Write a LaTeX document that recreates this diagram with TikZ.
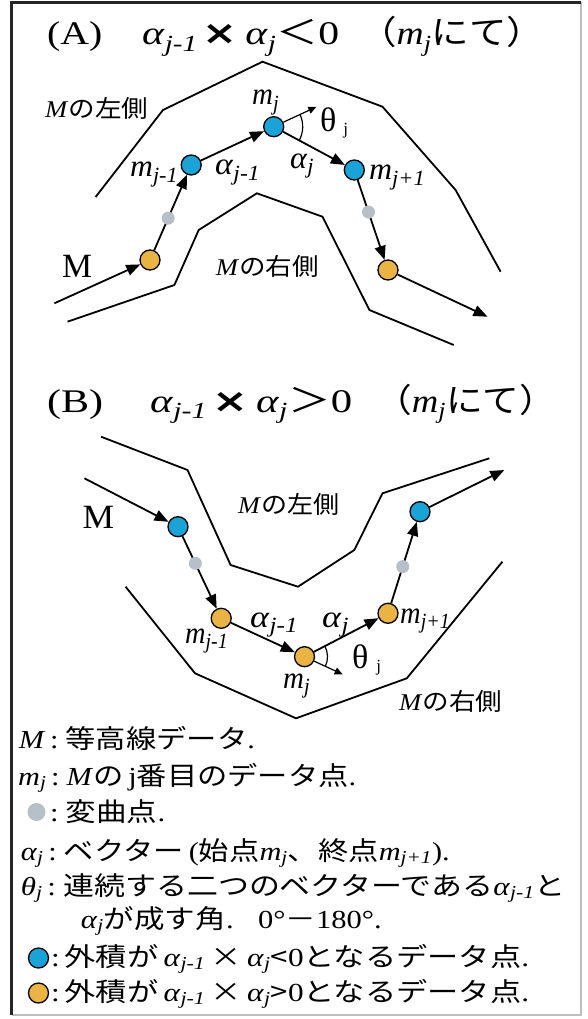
\documentclass[tikz,border=0pt]{standalone}
\usepackage{fontspec}
\usepackage{graphicx}
\setmainfont{Liberation Serif}
\newfontfamily\jp{Noto Sans CJK JP}
\newfontfamily\dv{DejaVu Sans}
\usetikzlibrary{arrows.meta,calc}
\definecolor{cblue}{HTML}{1AA3D6}
\definecolor{corange}{HTML}{E9B443}
\definecolor{cgray}{HTML}{B7BFC9}
\newcommand\mm[1]{\textit{m}\textsubscript{\textit{#1}}}
\newcommand\al[1]{\textit{α}\textsubscript{\textit{#1}}}
\newcommand\rs[2]{\resizebox{#1pt}{\height}{#2}}
\begin{document}
\begin{tikzpicture}[x=1pt,y=-1pt,
  dpt/.style={circle,draw=black,line width=1.3pt,minimum size=20pt,inner sep=0pt},
  bluept/.style={dpt,fill=cblue},
  orpt/.style={dpt,fill=corange},
  graypt/.style={circle,fill=cgray,minimum size=13pt,inner sep=0pt},
  vec/.style={line width=1.8pt,-{Triangle[length=14pt,width=11pt]}},
  angarrow/.style={line width=1.2pt,-{Triangle[length=8pt,width=7pt]}},
  angarc/.style={line width=1.2pt},
  side/.style={line width=1.8pt},
  ttl/.style={inner sep=0pt,anchor=base west,font=\fontsize{33}{36}\selectfont},
  lab/.style={inner sep=0pt,anchor=base west,font=\fontsize{31}{32}\selectfont},
  thl/.style={inner sep=0pt,anchor=base west,font=\fontsize{34}{36}\selectfont},
  sidelab/.style={inner sep=0pt,anchor=base west,font=\fontsize{24}{28}\selectfont},
  leg/.style={inner sep=0pt,anchor=base west,font=\fontsize{26}{30}\selectfont}]
\useasboundingbox (0,0) rectangle (588,1019);
\fill[white] (0,0) rectangle (588,1019);
% frame
\draw[line width=1.5pt,black!25] (581,2.5) -- (581,1015) -- (11.5,1015);
\draw[line width=2.5pt,black!85] (11.5,1015) -- (11.5,2.5) -- (581,2.5);

% ---------------- Panel A ----------------
\node[ttl] (tA1) at (47,45) {\rs{55}{(A)}};
\node[ttl] (tA2) at (142,45) {\rs{197}{\al{j-1}\hspace{4pt}{\dv\bfseries ×}\hspace{6pt}\al{j}{\jp ＜}0}};
\node[ttl] (tA3) at (359,45) {\rs{185}{{\jp （}\mm{j}{\jp にて）}}};

\draw[side] (95.6,197) -- (163,110) -- (262.5,61.7) -- (382.5,106.7) -- (455.6,190) -- (500.6,271.7);
\draw[side] (67.5,321.7) -- (174.4,285) -- (198.7,230) -- (256.9,193.3) -- (322.5,216.7) -- (369.4,310) -- (453.7,345);

\node[orpt] (a1) at (150,260) {};
\node[bluept] (a2) at (191.2,165) {};
\node[bluept] (a3) at (273.7,126.7) {};
\node[bluept] (a4) at (354.3,170) {};
\node[orpt] (a5) at (388,270) {};
\coordinate (as) at (54.4,303.3);
\coordinate (ae) at (487.5,316.7);
\draw[vec] (as) -- (a1);
\draw[vec] (a1) -- (a2);
\draw[vec] (a2) -- (a3);
\draw[vec] (a3) -- (a4);
\draw[vec] (a4) -- (a5);
\draw[vec] (a5) -- (ae);
\node[graypt] (ag1) at ($(a1)!0.44!(a2)$) {};
\node[graypt] (ag2) at ($(a4)!0.42!(a5)$) {};
\coordinate (ath) at ($(a3)!-47pt!(a2)$);
\draw[angarrow] (a3) -- (ath);
\draw[angarc] ($(a3)+(-24.9:29)$) arc[start angle=-24.9,end angle=28.2,radius=29];

\node[sidelab] (lA1) at (45,118) {\rs{103}{\textit{M}{\jp の左側}}};
\node[sidelab] (lA2) at (215.6,275) {\rs{103}{\textit{M}{\jp の右側}}};
\node[lab] (mA0) at (62,277) {\rs{30}{\fontsize{34}{34}\selectfont M}};
\node[lab] (mA1) at (130,177) {\rs{48}{\mm{j-1}}};
\node[lab] (mA2) at (252,105) {\rs{27}{\mm{j}}};
\node[lab] (mA3) at (369,180) {\rs{56}{\mm{j+1}}};
\node[lab] (aA1) at (215,175) {\rs{45}{\al{j-1}}};
\node[lab] (aA2) at (290,168) {\rs{24}{\al{j}}};
\node[thl] (thA) at (320,132) {θ\hspace{7pt}\raisebox{-3pt}{\fontsize{17}{17}\selectfont j}};

% ---------------- Panel B ----------------
\node[ttl] (tB1) at (47,412) {\rs{56}{(B)}};
\node[ttl] (tB2) at (150,412) {\rs{202}{\al{j-1}\hspace{4pt}{\dv\bfseries ×}\hspace{6pt}\al{j}{\jp ＞}0}};
\node[ttl] (tB3) at (375,412) {\rs{181}{{\jp （}\mm{j}{\jp にて）}}};

\draw[side] (101,436.7) -- (187.5,470) -- (230.6,565) -- (298,586.7) -- (354.3,550) -- (382.5,493.3) -- (489.3,458.3);
\draw[side] (125.6,586.7) -- (195,673.3) -- (296,718.3) -- (406.8,678.3) -- (502.4,561.7);

\node[bluept] (b1) at (178,526.7) {};
\node[orpt] (b2) at (221.2,618.3) {};
\node[orpt] (b3) at (304.5,656.7) {};
\node[orpt] (b4) at (388,613.3) {};
\node[bluept] (b5) at (420,511.7) {};
\coordinate (bs) at (84.4,478.3);
\coordinate (be) at (504.3,470);
\draw[vec] (bs) -- (b1);
\draw[vec] (b1) -- (b2);
\draw[vec] (b2) -- (b3);
\draw[vec] (b3) -- (b4);
\draw[vec] (b4) -- (b5);
\draw[vec] (b5) -- (be);
\node[graypt] (bg1) at ($(b1)!0.40!(b2)$) {};
\node[graypt] (bg2) at ($(b4)!0.46!(b5)$) {};
\coordinate (bth) at ($(b3)!-42pt!(b2)$);
\draw[angarrow] (b3) -- (bth);
\draw[angarc] ($(b3)+(24.5:23)$) arc[start angle=24.5,end angle=-27.8,radius=23];

\node[sidelab] (lB1) at (238,513) {\rs{101}{\textit{M}{\jp の左側}}};
\node[sidelab] (lB2) at (399,710) {\rs{103}{\textit{M}{\jp の右側}}};
\node[lab] (mB0) at (82.5,528) {\rs{31.5}{\fontsize{34}{34}\selectfont M}};
\node[lab] (mB1) at (185,643) {\rs{43}{\mm{j-1}}};
\node[lab] (mB2) at (283,688) {\rs{27}{\mm{j}}};
\node[lab] (mB3) at (400,623) {\rs{50}{\mm{j+1}}};
\node[lab] (aB1) at (250,627) {\rs{48}{\al{j-1}}};
\node[lab] (aB2) at (322,627) {\rs{27}{\al{j}}};
\node[thl] (thB) at (352,668) {θ\hspace{8pt}\raisebox{-3pt}{\fontsize{17}{17}\selectfont j}};

% ---------------- Legend ----------------
\node[leg] (L1) at (18.7,748) {\rs{236}{\textit{M}\hspace{4pt}:\hspace{6pt}{\jp 等高線データ}.}};
\node[leg] (L2) at (18,785) {\rs{338}{\mm{j}\hspace{4pt}:\hspace{6pt}\textit{M}{\jp の}\,j{\jp 番目のデータ点}.}};
\node[graypt,minimum size=18pt] (Lg) at (36.5,812) {};
\node[leg] (L3) at (50,821) {\rs{115}{:\hspace{6pt}{\jp 変曲点}.}};
\node[leg] (L4) at (20.6,860) {\rs{429}{\al{j}\hspace{4pt}:\hspace{6pt}{\jp ベクター}\,({\jp 始点}\mm{j}{\jp 、終点}\mm{j+1}).}};
\node[leg] (L5) at (20.6,895) {\rs{545}{\textit{θ}\textsubscript{\textit{j}}\hspace{4pt}:\hspace{6pt}{\jp 連続する二つのベクターである}\al{j-1}{\jp と}}};
\node[leg] (L6) at (80.6,928) {\rs{301}{\al{j}{\jp が成す角}.\hspace{0.8em}0°{\jp －}180°.}};
\node[bluept] (Lb) at (38.5,958) {};
\node[leg] (L7) at (51,966) {\rs{478}{:\hspace{4pt}{\jp 外積が}\,\al{j-1}\,{\jp ×}\,\al{j}{\jp <}0{\jp となるデータ点}.}};
\node[orpt] (Lo) at (38.5,993) {};
\node[leg] (L8) at (51,1001) {\rs{478}{:\hspace{4pt}{\jp 外積が}\,\al{j-1}\,{\jp ×}\,\al{j}{\jp >}0{\jp となるデータ点}.}};
\end{tikzpicture}
\end{document}
